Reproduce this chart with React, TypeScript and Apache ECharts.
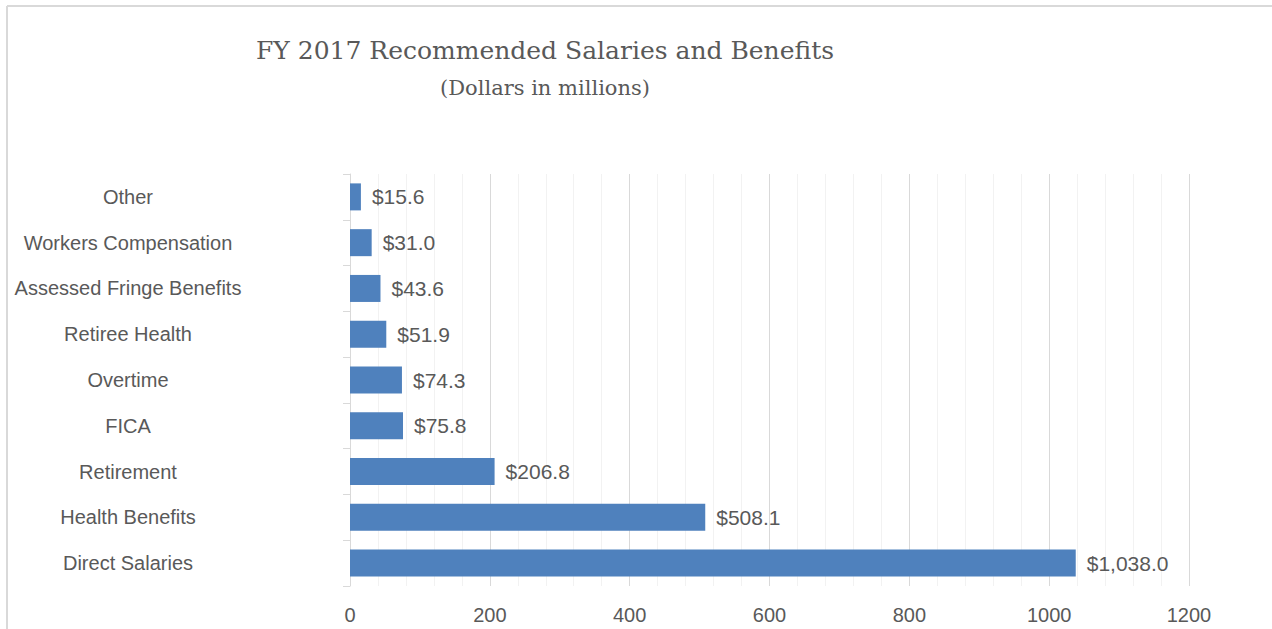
import React, { useEffect, useRef } from "react";
import * as echarts from "echarts";

const titleText = "FY 2017 Recommended Salaries and Benefits";
const subtitleText = "(Dollars in millions)";
const categories = [
  "Direct Salaries",
  "Health Benefits",
  "Retirement",
  "FICA",
  "Overtime",
  "Retiree Health",
  "Assessed Fringe Benefits",
  "Workers Compensation",
  "Other",
];
const values = [1038.0, 508.1, 206.8, 75.8, 74.3, 51.9, 43.6, 31.0, 15.6];
const axisMin = 0;
const axisMax = 1200;
const axisInterval = 200;

export default function App() {
  const ref = useRef<HTMLDivElement>(null);
  useEffect(() => {
    if (!ref.current) return;
    const chart = echarts.init(ref.current, null, { renderer: "svg" });
    chart.setOption({
      animation: false,
      backgroundColor: "#ffffff",
      graphic: [
        {
          type: "line",
          shape: { x1: 7, y1: 6, x2: 1272, y2: 6 },
          style: { stroke: "#d9d9d9", lineWidth: 2 },
        },
        {
          type: "line",
          shape: { x1: 7, y1: 6, x2: 7, y2: 629 },
          style: { stroke: "#d9d9d9", lineWidth: 2 },
        },
        {
          type: "text",
          x: 545,
          y: 50,
          style: {
            text: titleText,
            fill: "#595959",
            font: '25px "DejaVu Serif"',
            textAlign: "center",
            textVerticalAlign: "middle",
          },
        },
        {
          type: "text",
          x: 545,
          y: 88,
          style: {
            text: subtitleText,
            fill: "#595959",
            font: '21px "DejaVu Serif"',
            textAlign: "center",
            textVerticalAlign: "middle",
          },
        },
      ],
      grid: { left: 350, right: 83, top: 174, bottom: 43, containLabel: false },
      xAxis: {
        type: "value",
        min: axisMin,
        max: axisMax,
        interval: axisInterval,
        axisLine: { show: false },
        axisTick: { show: false },
        axisLabel: {
          color: "#595959",
          fontFamily: "Liberation Sans",
          fontSize: 20,
          margin: 19,
          formatter: (v: number) => String(v),
        },
        splitLine: { show: true, lineStyle: { color: "#d9d9d9", width: 1 } },
        minorTick: { show: false, splitNumber: 5 },
        minorSplitLine: { show: true, lineStyle: { color: "#f2f2f2", width: 1 } },
      },
      yAxis: {
        type: "category",
        data: categories,
        axisLine: { show: true, lineStyle: { color: "#d9d9d9", width: 1 } },
        axisTick: { show: true, length: 7, lineStyle: { color: "#d9d9d9" } },
        axisLabel: {
          color: "#595959",
          fontFamily: "Liberation Sans",
          fontSize: 20,
          align: "center",
          margin: 222,
        },
      },
      series: [
        {
          type: "bar",
          data: values,
          barCategoryGap: "41%",
          itemStyle: { color: "#4f81bd" },
          label: {
            show: true,
            position: "right",
            distance: 11,
            color: "#595959",
            fontFamily: "Liberation Sans",
            fontSize: 21,
            formatter: (p: any) =>
              "$" +
              Number(p.value).toLocaleString("en-US", {
                minimumFractionDigits: 1,
                maximumFractionDigits: 1,
              }),
          },
        },
      ],
    });
    return () => chart.dispose();
  }, []);
  return (
    <div
      ref={ref}
      style={{ position: "fixed", left: 0, top: 0, width: 1272, height: 629 }}
    />
  );
}
